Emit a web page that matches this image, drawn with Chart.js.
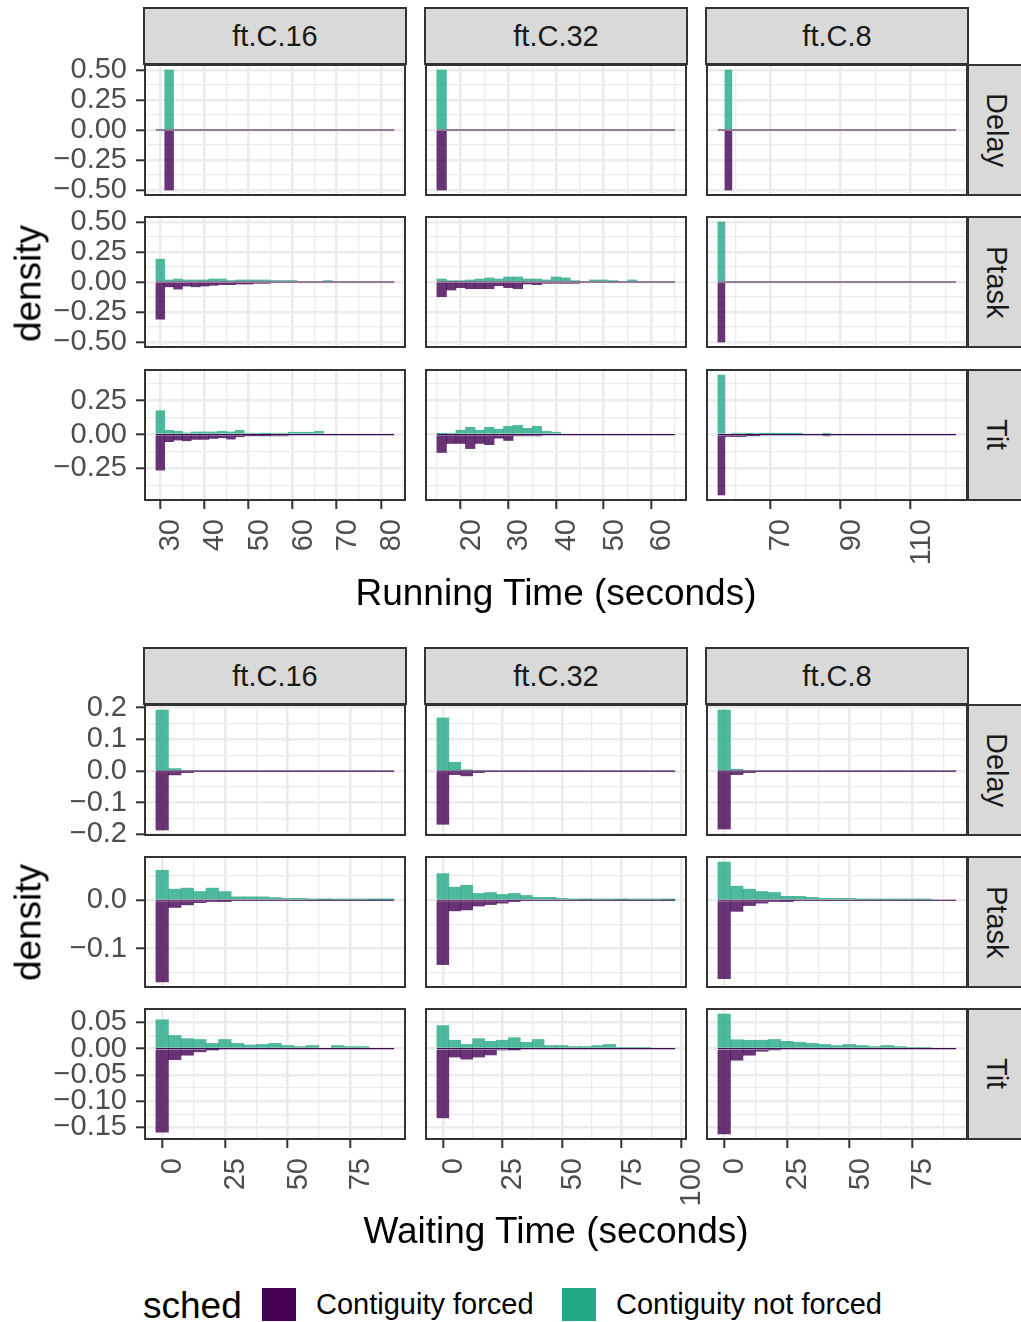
<!DOCTYPE html>
<html>
<head>
<meta charset="utf-8">
<script src="https://cdn.jsdelivr.net/npm/chart.js@4.4.1/dist/chart.umd.min.js"></script>
<style>
  body { margin: 0; background: #fff; width: 1021px; height: 1322px; position: relative; overflow: hidden;
         font-family: "Liberation Sans", Arial, sans-serif; }
  canvas { position: absolute; }
  .strip { position: absolute; background: #d9d9d9; border: 2px solid #333; box-sizing: border-box;
           color: #1a1a1a; font-size: 29px; display: flex; align-items: center; justify-content: center; }
  .stripy { border-right: none; writing-mode: vertical-rl; }
  .title { position: absolute; font-size: 37px; line-height: 37px; color: #000; white-space: nowrap; text-align: center; }
  .key { position: absolute; width: 34px; height: 33px; }
  .keylab { position: absolute; font-size: 29px; line-height: 29px; color: #000; white-space: nowrap; }
</style>
</head>
<body>
<script>
Chart.defaults.font.family = '"Liberation Sans", Arial, sans-serif';
Chart.defaults.animation = false;

const FACETS = ['ft.C.16', 'ft.C.32', 'ft.C.8'];
const ROWS = ['Delay', 'Ptask', 'Tit'];

// running time, bins of 2 s (one start per facet column)
const runBinStart = [29, 15, 55];
const runBinWidth = 2;
const runBinCount = [27, 25, 34];
const runXBreaks = [[30, 40, 50, 60, 70, 80], [20, 30, 40, 50, 60], [70, 90, 110]];
const runYBreaks = [[0.5, 0.25, 0, -0.25, -0.5], [0.5, 0.25, 0, -0.25, -0.5], [0.25, 0, -0.25]];
const runYDigits = [2, 2, 2];

const runDelayC16NotForced = [0, 0.5];
const runDelayC16Forced = [0, 0.5];
const runPtaskC16NotForced = [0.19, 0.017, 0.025, 0.017, 0.017, 0.017, 0.025, 0.025, 0.012, 0.017, 0.017, 0.017, 0.017, 0.012, 0.012, 0.012, 0, 0, 0, 0.012];
const runPtaskC16Forced = [0.31, 0.04, 0.059, 0.034, 0.04, 0.034, 0.028, 0.022, 0.022, 0.017, 0.017, 0.011, 0.011];
const runTitC16NotForced = [0.176, 0.031, 0.024, 0.012, 0.019, 0.019, 0.019, 0.024, 0.019, 0.031, 0.01, 0.01, 0.004, 0.01, 0.01, 0.017, 0.017, 0.017, 0.024];
const runTitC16Forced = [0.263, 0.053, 0.041, 0.046, 0.036, 0.036, 0.029, 0.024, 0.034, 0.017, 0.007, 0.007, 0.007, 0.01, 0.01];

const runDelayC32NotForced = [0.5];
const runDelayC32Forced = [0.5];
const runPtaskC32NotForced = [0.025, 0.008, 0.008, 0.017, 0.025, 0.034, 0.025, 0.042, 0.042, 0.025, 0.025, 0.017, 0.042, 0.034, 0.008, 0, 0.017, 0.017, 0.008, 0, 0.017];
const runPtaskC32Forced = [0.123, 0.067, 0.047, 0.056, 0.056, 0.056, 0.031, 0.047, 0.056, 0.017, 0.022, 0.011, 0.011, 0.011, 0.011];
const runTitC32NotForced = [0.003, 0.01, 0.032, 0.053, 0.032, 0.053, 0.039, 0.061, 0.068, 0.046, 0.061, 0.024, 0.017];
const runTitC32Forced = [0.133, 0.066, 0.066, 0.104, 0.066, 0.075, 0.027, 0.044, 0.01, 0.01, 0.01];

const runDelayC8NotForced = [0, 0.5];
const runDelayC8Forced = [0, 0.5];
const runPtaskC8NotForced = [0.5];
const runPtaskC8Forced = [0.5];
const runTitC8NotForced = [0.44, 0, 0.01, 0.01, 0.005, 0.01, 0.003, 0.003, 0.003, 0.003, 0.003, 0.003, 0, 0, 0, 0.007];
const runTitC8Forced = [0.447, 0.015, 0.015, 0.015, 0.007, 0.007, 0, 0, 0, 0, 0, 0, 0, 0, 0, 0.01];

// waiting time, bins of 5 s centred on 0
const waitBinStart = [-2.5, -2.5, -2.5];
const waitBinWidth = 5;
const waitBinCount = [19, 20, 19];
const waitXBreaks = [[0, 25, 50, 75], [0, 25, 50, 75, 100], [0, 25, 50, 75]];
const waitYBreaks = [[0.2, 0.1, 0, -0.1, -0.2], [0, -0.1], [0.05, 0, -0.05, -0.1, -0.15]];
const waitYDigits = [1, 1, 2];

const waitDelayC16NotForced = [0.193, 0.008];
const waitDelayC16Forced = [0.186, 0.012, 0.005];
const waitPtaskC16NotForced = [0.062, 0.023, 0.025, 0.018, 0.025, 0.018, 0.007, 0.007, 0.007, 0.0055, 0.004, 0.004, 0.002, 0.001, 0.002, 0.002, 0.002, 0.001, 0.001];
const waitPtaskC16Forced = [0.169, 0.015, 0.0096, 0.005, 0.002, 0.001];
const waitTitC16NotForced = [0.055, 0.025, 0.019, 0.0175, 0.01, 0.0175, 0.01, 0.007, 0.008, 0.01, 0.006, 0.004, 0.006, 0, 0.006, 0.004, 0.004];
const waitTitC16Forced = [0.159, 0.021, 0.0125, 0.006, 0.001];

const waitDelayC32NotForced = [0.168, 0.028, 0.003];
const waitDelayC32Forced = [0.168, 0.011, 0.015, 0.005];
const waitPtaskC32NotForced = [0.055, 0.027, 0.031, 0.014, 0.016, 0.012, 0.014, 0.01, 0.006, 0.006, 0.004, 0.002, 0.001, 0.002, 0.002, 0.001, 0.002, 0.002, 0.002, 0.001];
const waitPtaskC32Forced = [0.133, 0.022, 0.02, 0.012, 0.009, 0.006, 0.001];
const waitTitC32NotForced = [0.044, 0.016, 0.008, 0.019, 0.014, 0.016, 0.021, 0.012, 0.0175, 0.006, 0.006, 0.004, 0.004, 0.006, 0.008, 0.0025, 0.0025, 0.0025];
const waitTitC32Forced = [0.132, 0.016, 0.02, 0.016, 0.012, 0.0025, 0.001];

const waitDelayC8NotForced = [0.193, 0.006];
const waitDelayC8Forced = [0.183, 0.011, 0.005];
const waitPtaskC8NotForced = [0.079, 0.029, 0.023, 0.018, 0.016, 0.008, 0.008, 0.006, 0.004, 0.004, 0.004, 0.002, 0.002, 0.002, 0.002, 0.002, 0.002];
const waitPtaskC8Forced = [0.162, 0.023, 0.011, 0.006, 0.003, 0.001];
const waitTitC8NotForced = [0.066, 0.017, 0.016, 0.016, 0.0175, 0.014, 0.012, 0.01, 0.008, 0.006, 0.008, 0.006, 0.004, 0.006, 0.004, 0.0025, 0.0025];
const waitTitC8Forced = [0.1625, 0.022, 0.0125, 0.005, 0.002];

const COL_FORCED = '#440154';
const COL_NOT_FORCED = '#22a884';
const FILL_FORCED = 'rgba(68, 1, 84, 0.8)';
const FILL_NOT_FORCED = 'rgba(34, 168, 132, 0.8)';

// layout
const COL_LEFT = [144, 425, 706];
const PANEL_W = 262, PANEL_H = 132, AXIS_W = 144, AXIS_H = 80, LABEL_PAD = 16, RIGHT_PAD = 24;

const panelFrame = {
  id: 'panelFrame',
  afterDraw(chart) {
    const a = chart.chartArea, ctx = chart.ctx;
    ctx.save();
    ctx.strokeStyle = '#333333';
    ctx.lineWidth = 2;
    ctx.strokeRect(a.left + 1, a.top + 1, a.right - a.left - 2, a.bottom - a.top - 2);
    ctx.restore();
  }
};

function fmt(v, d) {
  const s = Math.abs(v).toFixed(d);
  return v < -1e-9 ? '\u2212' + s : s;
}

// majors plus ggplot-style minor breaks half way between them
function tickList(major, lo, hi) {
  const m = major.slice().sort((a, b) => a - b);
  const step = m.length > 1 ? m[1] - m[0] : 1;
  const out = m.filter(v => v >= lo && v <= hi).map(v => ({ value: v, minor: false }));
  let v = m[0] - step / 2;
  while (v - step >= lo) v -= step;
  for (; v <= hi + 1e-9; v += step) {
    if (v >= lo - 1e-9) out.push({ value: +v.toFixed(6), minor: true });
  }
  return out.sort((a, b) => a.value - b.value);
}

// one point per bin of the column; bins with no count get no bar
function toBars(vals, start, width, count, sign) {
  const pts = [];
  for (let i = 0; i < count; i++) {
    const v = vals[i];
    pts.push({ x: start + (i + 0.5) * width, y: v ? sign * v : null });
  }
  return pts;
}

function makePanel(g, r, c, yLo, yHi) {
  const showY = c === 0, showX = r === 2;
  const padTop = showY ? LABEL_PAD : 0;
  const padBottom = showY && !showX ? LABEL_PAD : 0;
  const padRight = showX ? RIGHT_PAD : 0;
  const w = PANEL_W + (showY ? AXIS_W : 0) + padRight;
  const h = PANEL_H + (showX ? AXIS_H : 0) + padTop + padBottom;
  const cv = document.createElement('canvas');
  cv.width = w; cv.height = h;
  cv.style.left = (COL_LEFT[c] - (showY ? AXIS_W : 0)) + 'px';
  cv.style.top = (g.rowTops[r] - padTop) + 'px';
  cv.style.width = w + 'px'; cv.style.height = h + 'px';
  document.body.appendChild(cv);

  const lo = g.binStart[c], n = g.binCount[c], hi = lo + n * g.binWidth;
  const pad = (hi - lo) * 0.05;
  const xMin = lo - pad, xMax = hi + pad;
  const xTicks = tickList(g.xBreaks[c], xMin, xMax);
  const yTicks = tickList(g.yBreaks[r], yLo, yHi);
  const gridW = ctx => (ctx.tick && ctx.tick.minor ? 1.3 : 2.6);
  const tickC = ctx => (ctx.tick && ctx.tick.minor ? 'rgba(0,0,0,0)' : '#333333');

  new Chart(cv, {
    type: 'bar',
    data: {
      datasets: [
        { type: 'line', data: [{ x: lo, y: 0 }, { x: hi, y: 0 }], borderColor: '#3b0f50',
          borderWidth: 1.2, pointRadius: 0 },
        { label: 'Contiguity not forced', data: toBars(g.notForced[r][c], lo, g.binWidth, n, 1),
          backgroundColor: FILL_NOT_FORCED },
        { label: 'Contiguity forced', data: toBars(g.forced[r][c], lo, g.binWidth, n, -1),
          backgroundColor: FILL_FORCED }
      ]
    },
    options: {
      responsive: false,
      maintainAspectRatio: false,
      events: [],
      layout: { padding: { top: padTop, bottom: padBottom, left: 0, right: padRight } },
      datasets: { bar: { grouped: false, barPercentage: 1, categoryPercentage: 1, borderWidth: 0 } },
      plugins: { legend: { display: false }, tooltip: { enabled: false } },
      scales: {
        x: {
          type: 'linear', min: xMin, max: xMax, offset: false,
          afterBuildTicks: s => { s.ticks = xTicks.map(t => ({ ...t })); },
          afterFit: s => { s.height = showX ? AXIS_H : 0; s.paddingLeft = 0; s.paddingRight = 0; },
          grid: { offset: false, color: '#ebebeb', lineWidth: gridW, drawTicks: showX, tickLength: 8,
                  tickWidth: 2, tickColor: tickC },
          border: { display: false },
          ticks: { display: showX, autoSkip: false, minRotation: 90, maxRotation: 90, padding: 10,
                   labelOffset: 11, color: '#4d4d4d', font: { size: 29 },
                   callback: (v, i, t) => (t[i].minor ? '' : String(v)) }
        },
        y: {
          type: 'linear', min: yLo, max: yHi,
          afterBuildTicks: s => { s.ticks = yTicks.map(t => ({ ...t })); },
          afterFit: s => { s.width = showY ? AXIS_W : 0; s.paddingTop = 0; s.paddingBottom = 0; },
          grid: { color: '#ebebeb', lineWidth: gridW, drawTicks: showY, tickLength: 8,
                  tickWidth: 2, tickColor: tickC },
          border: { display: false },
          ticks: { display: showY, autoSkip: false, padding: 9, color: '#4d4d4d', font: { size: 29 },
                   callback: (v, i, t) => (t[i].minor ? '' : fmt(v, g.yDigits[r])) }
        }
      }
    },
    plugins: [panelFrame]
  });
}

function addDiv(cls, text, css) {
  const d = document.createElement('div');
  d.className = cls;
  if (text) d.textContent = text;
  Object.assign(d.style, css);
  document.body.appendChild(d);
  return d;
}

function drawGrid(g) {
  FACETS.forEach((f, c) => {
    addDiv('strip', f, { left: (COL_LEFT[c] - 1) + 'px', top: g.stripTop + 'px',
                         width: (PANEL_W + 2) + 'px', height: (g.rowTops[0] - g.stripTop + 1) + 'px' });
  });
  ROWS.forEach((name, r) => {
    addDiv('strip stripy', name, { left: (COL_LEFT[2] + PANEL_W - 1) + 'px', top: g.rowTops[r] + 'px',
                                   width: '56px', height: PANEL_H + 'px' });
  });
  for (let r = 0; r < 3; r++) {
    const hiVals = [].concat(...g.notForced[r], [0]);
    const loVals = [].concat(...g.forced[r], [0]);
    const yMaxData = Math.max(...hiVals), yMinData = -Math.max(...loVals);
    const pad = (yMaxData - yMinData) * 0.05;
    for (let c = 0; c < 3; c++) makePanel(g, r, c, yMinData - pad, yMaxData + pad);
  }
  addDiv('title', g.xTitle, { left: COL_LEFT[0] + 'px', width: (COL_LEFT[2] + PANEL_W - COL_LEFT[0]) + 'px',
                              top: (g.xTitleY - 18) + 'px' });
  const midY = (g.rowTops[0] + g.rowTops[2] + PANEL_H) / 2;
  addDiv('title', 'density', { left: '-72px', width: '200px', top: (midY - 18) + 'px',
                               transform: 'rotate(-90deg)' });
}

drawGrid({
  stripTop: 7, rowTops: [64, 216, 369], xTitle: 'Running Time (seconds)', xTitleY: 592,
  binStart: runBinStart, binWidth: runBinWidth, binCount: runBinCount,
  xBreaks: runXBreaks, yBreaks: runYBreaks, yDigits: runYDigits,
  notForced: [[runDelayC16NotForced, runDelayC32NotForced, runDelayC8NotForced],
              [runPtaskC16NotForced, runPtaskC32NotForced, runPtaskC8NotForced],
              [runTitC16NotForced, runTitC32NotForced, runTitC8NotForced]],
  forced: [[runDelayC16Forced, runDelayC32Forced, runDelayC8Forced],
           [runPtaskC16Forced, runPtaskC32Forced, runPtaskC8Forced],
           [runTitC16Forced, runTitC32Forced, runTitC8Forced]]
});

drawGrid({
  stripTop: 647, rowTops: [704, 856, 1008], xTitle: 'Waiting Time (seconds)', xTitleY: 1230,
  binStart: waitBinStart, binWidth: waitBinWidth, binCount: waitBinCount,
  xBreaks: waitXBreaks, yBreaks: waitYBreaks, yDigits: waitYDigits,
  notForced: [[waitDelayC16NotForced, waitDelayC32NotForced, waitDelayC8NotForced],
              [waitPtaskC16NotForced, waitPtaskC32NotForced, waitPtaskC8NotForced],
              [waitTitC16NotForced, waitTitC32NotForced, waitTitC8NotForced]],
  forced: [[waitDelayC16Forced, waitDelayC32Forced, waitDelayC8Forced],
           [waitPtaskC16Forced, waitPtaskC32Forced, waitPtaskC8Forced],
           [waitTitC16Forced, waitTitC32Forced, waitTitC8Forced]]
});

// legend
addDiv('title', 'sched', { left: '143px', top: '1287px', textAlign: 'left' });
addDiv('key', '', { left: '262px', top: '1288px', background: COL_FORCED });
addDiv('keylab', 'Contiguity forced', { left: '316px', top: '1290px' });
addDiv('key', '', { left: '562px', top: '1288px', background: COL_NOT_FORCED });
addDiv('keylab', 'Contiguity not forced', { left: '616px', top: '1290px' });
</script>
</body>
</html>
